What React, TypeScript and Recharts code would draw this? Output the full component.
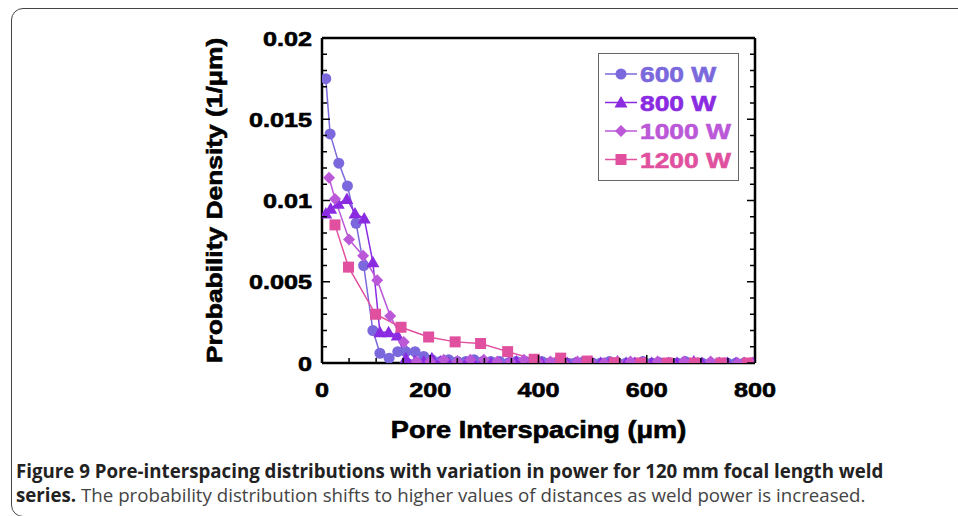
import { Legend, Line, LineChart, XAxis, YAxis } from 'recharts';

// pore interspacing (um) and probability density (1/um)
const X_600 = [
  7, 15, 31, 47, 63, 77, 94, 107, 124, 140, 155, 172,
  188, 203, 219, 234, 250, 266, 281, 297, 312, 328,
  344, 359, 375, 390, 406, 422, 437, 453, 468, 484,
  500, 515, 531, 546, 562, 578, 593, 609, 624, 640,
  656, 671, 687, 702, 718, 734, 749, 765, 780, 796,
];
const Y_600 = [
  0.0175, 0.0141, 0.0123, 0.0109, 0.0086, 0.006, 0.002, 0.0006, 0.0003, 0.0007, 0.0007, 0.0007,
  0.0004, 0.0002, 0.0001, 0.0002, 0.0001, 0.0001, 0.0002, 0.0001, 0.0001, 0.0001,
  0, 0.0001, 0.0001, 0, 0.0001, 0, 0.0001, 0, 0, 0.0001,
  0, 0, 0.0001, 0, 0, 0, 0.0001, 0, 0, 0,
  0, 0.0001, 0, 0, 0, 0, 0, 0, 0, 0,
];

const X_800 = [
  7, 16, 30, 46, 61, 78, 94, 107, 123, 139, 155, 172,
  188, 203, 219, 234, 250, 266, 281, 297, 312, 328,
  344, 359, 375, 390, 406, 422, 437, 453, 468, 484,
  500, 515, 531, 546, 562, 578, 593, 609, 624, 640,
  656, 671, 687, 702, 718, 734, 749, 765, 780, 796,
];
const Y_800 = [
  0.0092, 0.0095, 0.0098, 0.0101, 0.0092, 0.0089, 0.0062, 0.0019, 0.0019, 0.0017, 0.0003, 0.0001,
  0.0001, 0.0003, 0.0001, 0, 0.0001, 0, 0, 0.0001, 0, 0,
  0, 0.0001, 0, 0, 0, 0, 0.0001, 0, 0, 0,
  0, 0, 0, 0.0001, 0, 0, 0, 0, 0, 0,
  0, 0, 0.0001, 0, 0, 0, 0, 0, 0, 0,
];

const X_1000 = [
  13, 24, 50, 76, 102, 126, 151, 175,
  200, 225, 250, 274, 299, 324, 348, 373, 398, 422,
  447, 472, 496, 521, 546, 570, 595, 620, 644, 669,
  694, 718, 743, 768, 792,
];
const Y_1000 = [
  0.0114, 0.0101, 0.0076, 0.0066, 0.0051, 0.0029, 0.0013, 0.0001,
  0.0001, 0.0002, 0.0001, 0.0002, 0.0002, 0.0001, 0.0001, 0.0002, 0.0001, 0.0001,
  0, 0.0001, 0.0001, 0, 0.0001, 0.0001, 0, 0.0001, 0, 0.0001,
  0, 0.0001, 0, 0, 0,
];

const X_1200 = [24, 49, 99, 146, 197, 246, 293, 343, 392, 441, 490, 540, 589, 638, 688, 737, 786];
const Y_1200 = [
  0.0085, 0.0059, 0.003, 0.0022, 0.0016, 0.0013, 0.0012, 0.0007, 0.00023,
  0.0003, 0.00012, 0.00002, 0, 0, 0, 0, 0,
];

const X_TICKS = [0, 50, 100, 150, 200, 250, 300, 350, 400, 450, 500, 550, 600, 650, 700, 750, 800];
const X_LABELS = [0, 200, 400, 600, 800];
const Y_TICKS = [
  0, 0.001, 0.002, 0.003, 0.004, 0.005, 0.006, 0.007, 0.008, 0.009, 0.01,
  0.011, 0.012, 0.013, 0.014, 0.015, 0.016, 0.017, 0.018, 0.019, 0.02,
];
const Y_LABELS = [0, 0.005, 0.01, 0.015, 0.02];

const SERIES_NAMES = ['600 W', '800 W', '1000 W', '1200 W'];
const SHAPES = ['circle', 'triangle', 'diamond', 'square'];
const COLORS = ['#7a68dc', '#8a2be2', '#bb58d8', '#e0509f'];

const toPoints = (xs: number[], ys: number[]) => xs.map((x, i) => ({ x, y: ys[i] }));
const SERIES = [
  toPoints(X_600, Y_600),
  toPoints(X_800, Y_800),
  toPoints(X_1000, Y_1000),
  toPoints(X_1200, Y_1200),
];

const FONT = '"Liberation Sans", Arial, sans-serif';
// the original lettering is a heavy, wide Helvetica; a thin stroke thickens Arial bold
const heavy = (size: number, color: string) => ({
  fontFamily: FONT,
  fontWeight: 700,
  fontSize: size,
  fill: color,
  stroke: color,
  strokeWidth: 0.6,
});
const tickFont = heavy(21, '#000');

function Marker({ shape, cx, cy, color }: { shape: string; cx: number; cy: number; color: string }) {
  if (shape === 'circle') return <circle cx={cx} cy={cy} r={5.5} fill={color} />;
  if (shape === 'triangle')
    return <polygon points={`${cx},${cy - 6.5} ${cx - 6.5},${cy + 5} ${cx + 6.5},${cy + 5}`} fill={color} />;
  if (shape === 'diamond')
    return <polygon points={`${cx},${cy - 6} ${cx + 6},${cy} ${cx},${cy + 6} ${cx - 6},${cy}`} fill={color} />;
  return <rect x={cx - 5.5} y={cy - 5.5} width={11} height={11} fill={color} />;
}

const makeDot = (shape: string, color: string) => (props: any) => {
  const { cx, cy, index } = props;
  if (cx == null || cy == null) return <g key={`${shape}-${index}`} />;
  return <Marker key={`${shape}-${index}`} shape={shape} cx={cx} cy={cy} color={color} />;
};

// ticks point into the plot; tickSize/tickMargin are 0 so x,y sit on the axis line
const BottomTick = ({ x, y, payload }: any) => {
  const major = X_LABELS.includes(payload.value);
  return (
    <g>
      <line x1={x} x2={x} y1={y} y2={y - (major ? 8 : 5)} stroke="#000" strokeWidth={1.5} />
      {major && (
        <text transform={`translate(${x},${y + 34}) scale(1.2,1)`} textAnchor="middle" style={tickFont}>
          {payload.value}
        </text>
      )}
    </g>
  );
};

const TopTick = ({ x, y, payload }: any) => {
  const major = X_LABELS.includes(payload.value);
  return <line x1={x} x2={x} y1={y} y2={y + (major ? 8 : 5)} stroke="#000" strokeWidth={1.5} />;
};

const LeftTick = ({ x, y, payload }: any) => {
  const major = Y_LABELS.includes(payload.value);
  return (
    <g>
      <line x1={x} x2={x + (major ? 8 : 5)} y1={y} y2={y} stroke="#000" strokeWidth={1.5} />
      {major && (
        <text transform={`translate(${x - 10},${y + 7.5}) scale(1.2,1)`} textAnchor="end" style={tickFont}>
          {String(payload.value)}
        </text>
      )}
    </g>
  );
};

const RightTick = ({ x, y, payload }: any) => {
  const major = Y_LABELS.includes(payload.value);
  return <line x1={x} x2={x - (major ? 8 : 5)} y1={y} y2={y} stroke="#000" strokeWidth={1.5} />;
};

const XTitle = ({ viewBox }: any) => (
  <text
    transform={`translate(${viewBox.x + viewBox.width / 2},${viewBox.y + 75}) scale(1.18,1)`}
    textAnchor="middle"
    style={heavy(23, '#000')}
  >
    Pore Interspacing (μm)
  </text>
);

const YTitle = ({ viewBox }: any) => (
  <text
    transform={`translate(${viewBox.x + viewBox.width - 100},${viewBox.y + viewBox.height / 2}) rotate(-90) scale(1.2,1)`}
    textAnchor="middle"
    style={heavy(22, '#000')}
  >
    Probability Density (1/μm)
  </text>
);

const LegendBox = () => (
  <svg width={141} height={128} style={{ display: 'block' }}>
    <rect x={0.5} y={0.5} width={140} height={127} fill="#fff" stroke="#666" strokeWidth={1} />
    {SERIES_NAMES.map((name, i) => {
      const cy = 21 + i * 28.5;
      return (
        <g key={name}>
          <line x1={7} x2={39} y1={cy} y2={cy} stroke={COLORS[i]} strokeWidth={1.5} />
          <Marker shape={SHAPES[i]} cx={23} cy={cy} color={COLORS[i]} />
          <text transform={`translate(42,${cy + 8}) scale(1.2,1)`} style={heavy(22, COLORS[i])}>
            {name}
          </text>
        </g>
      );
    })}
  </svg>
);

export default function App() {
  return (
    <div
      style={{
        position: 'absolute',
        left: 0,
        top: 0,
        width: 958,
        height: 516,
        overflow: 'hidden',
        background: '#fff',
      }}
    >
      <div
        style={{
          position: 'absolute',
          left: 11,
          top: 8,
          width: 960,
          height: 507,
          border: '1.5px solid #444',
          borderRadius: 12,
        }}
      />
      <div style={{ position: 'absolute', left: 0, top: 0 }}>
        <LineChart width={958} height={516} margin={{ top: 37, right: 202, bottom: 152, left: 321 }}>
          <XAxis
            xAxisId="bottom"
            dataKey="x"
            type="number"
            domain={[0, 800]}
            ticks={X_TICKS}
            interval={0}
            height={1}
            tickSize={0}
            tickMargin={0}
            tick={<BottomTick />}
            axisLine={{ stroke: '#000', strokeWidth: 2.5 }}
            allowDataOverflow
            label={{ content: XTitle }}
          />
          <XAxis
            xAxisId="top"
            orientation="top"
            type="number"
            domain={[0, 800]}
            ticks={X_TICKS}
            interval={0}
            height={1}
            tickSize={0}
            tickMargin={0}
            tick={<TopTick />}
            axisLine={{ stroke: '#000', strokeWidth: 2.5 }}
            allowDataOverflow
          />
          <YAxis
            yAxisId="left"
            type="number"
            domain={[0, 0.02]}
            ticks={Y_TICKS}
            interval={0}
            width={1}
            tickSize={0}
            tickMargin={0}
            tick={<LeftTick />}
            axisLine={{ stroke: '#000', strokeWidth: 2.5 }}
            allowDataOverflow
            label={{ content: YTitle }}
          />
          <YAxis
            yAxisId="right"
            orientation="right"
            type="number"
            domain={[0, 0.02]}
            ticks={Y_TICKS}
            interval={0}
            width={1}
            tickSize={0}
            tickMargin={0}
            tick={<RightTick />}
            axisLine={{ stroke: '#000', strokeWidth: 2.5 }}
            allowDataOverflow
          />
          <Legend
            layout="horizontal"
            verticalAlign="middle"
            align="center"
            content={() => <LegendBox />}
            wrapperStyle={{ position: 'absolute', left: 598, top: 53, width: 141, height: 128 }}
          />
          {SERIES.map((data, i) => (
            <Line
              key={SERIES_NAMES[i]}
              xAxisId="bottom"
              yAxisId="left"
              data={data}
              dataKey="y"
              name={SERIES_NAMES[i]}
              stroke={COLORS[i]}
              strokeWidth={1.5}
              dot={makeDot(SHAPES[i], COLORS[i])}
              activeDot={false}
              isAnimationActive={false}
            />
          ))}
        </LineChart>
      </div>
      <div
        style={{
          position: 'absolute',
          left: 16,
          top: 459,
          width: 940,
          fontFamily: '"Open Sans", sans-serif',
          fontSize: 18.7,
          lineHeight: '24px',
          color: '#444',
          whiteSpace: 'nowrap',
        }}
      >
        <b style={{ fontWeight: 700, color: '#222' }}>
          Figure 9 Pore-interspacing distributions with variation in power for 120 mm focal length weld
          <br />
          series.
        </b>{' '}
        The probability distribution shifts to higher values of distances as weld power is increased.
      </div>
    </div>
  );
}
